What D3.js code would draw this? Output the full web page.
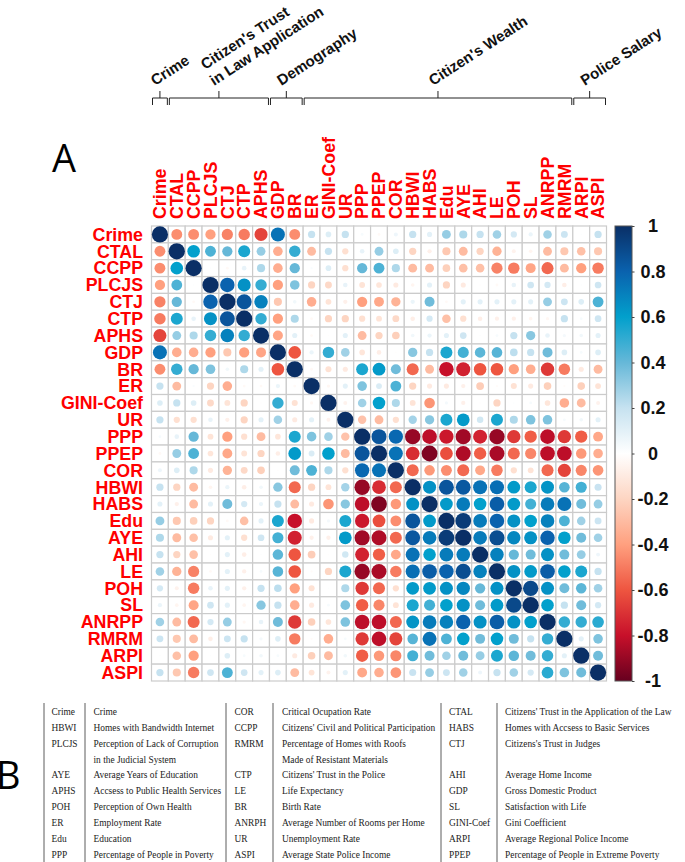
<!DOCTYPE html>
<html>
<head>
<meta charset="utf-8">
<script src="https://cdn.jsdelivr.net/npm/d3@7"></script>
<style>
  html, body { margin: 0; padding: 0; background: #fff; }
  svg { display: block; }
  .var-label { font-family: "Liberation Sans", sans-serif; font-weight: bold; font-size: 17.8px; fill: #ff0000; }
  .group-label { font-family: "Liberation Sans", sans-serif; font-weight: bold; font-size: 15px; fill: #111; }
  .panel-label { font-family: "Open Sans", sans-serif; font-size: 38px; fill: #000; }
  .cbar text { font-family: "Liberation Sans", sans-serif; font-weight: bold; font-size: 18px; fill: #111; }
  .legend-text { font-family: "Liberation Serif", serif; font-size: 9.4px; fill: #222; }
</style>
</head>
<body>
<svg width="685" height="862"></svg>
<script>
const variables = ["Crime", "CTAL", "CCPP", "PLCJS", "CTJ", "CTP", "APHS", "GDP", "BR", "ER", "GINI-Coef", "UR",
  "PPP", "PPEP", "COR", "HBWI", "HABS", "Edu", "AYE", "AHI", "LE", "POH", "SL", "ANRPP", "RMRM", "ARPI", "ASPI"];

// upper triangle of the correlation matrix, one row per variable
const corrUpper = [
  [1, -.45, -.45, -.4, -.48, -.5, -.65, .75, -.45, .2, .12, .2, .03, -.03, .06, .2, .1, .3, .25, .2, .28, .15, .07, .28, .18, .01, .2],
  [1, .6, .45, .4, .55, .3, -.35, .5, -.3, .2, -.15, .08, .3, .12, -.2, -.07, -.25, -.3, -.2, -.33, -.06, -.05, -.3, -.25, -.28, -.25],
  [1, .01, -.03, .08, .25, -.35, .4, .02, .12, -.15, .4, .45, .25, -.3, -.3, -.22, -.28, -.28, -.48, -.5, -.38, -.55, -.3, -.4, -.5],
  [1, .8, .65, .5, -.4, .35, -.2, -.18, .08, -.13, -.12, -.1, -.05, .1, -.2, -.1, -.01, -.03, .08, .17, .15, -.08, .01, .17],
  [1, .85, .7, -.25, .05, -.35, -.13, -.07, -.4, -.37, -.33, .07, .38, -.03, .1, .1, .1, .1, .1, .3, .18, .12, .45],
  [1, .5, -.4, .25, -.03, -.2, -.2, -.15, -.13, -.18, -.08, .15, -.28, -.15, -.08, -.07, -.07, -.05, -.04, .2, .03, .17],
  [1, -.38, .1, -.03, -.01, .1, -.3, -.2, -.22, .05, .07, .1, .17, .01, .03, .2, .33, .08, .04, .05, .1],
  [1, -.6, .07, .5, .28, -.12, -.08, -.01, .33, .2, .55, .47, .42, .43, .22, .2, .38, .12, .03, .12],
  [1, -.03, -.14, -.1, .55, .62, .38, -.55, -.3, -.8, -.75, -.6, -.6, -.4, -.35, -.68, -.5, -.1, -.3],
  [1, -.04, .1, .35, .13, .45, -.2, -.1, -.1, -.07, -.23, -.02, -.14, -.1, -.22, -.02, -.22, -.13],
  [1, -.06, .28, .6, .25, -.13, -.43, .04, -.07, -.01, -.2, .01, .03, -.12, -.35, -.3, -.06],
  [1, -.27, -.3, -.15, .27, .33, .55, .62, .16, .55, .25, .35, .35, .03, .05, .1],
  [1, .85, .78, -.9, -.82, -.78, -.88, -.75, -.9, -.68, -.58, -.82, -.68, -.58, -.37],
  [1, .75, -.72, -.95, -.62, -.85, -.58, -.86, -.55, -.47, -.82, -.82, -.42, -.35],
  [1, -.55, -.42, -.45, -.55, -.37, -.5, -.15, -.13, -.55, -.65, -.47, -.43],
  [1, .65, .85, .84, .75, .76, .62, .55, .64, .43, .47, .19],
  [1, .62, .72, .6, .82, .62, .47, .72, .75, .38, .3],
  [1, .95, .72, .8, .65, .6, .7, .45, .28, .18],
  [1, .72, .88, .68, .65, .8, .6, .38, .28],
  [1, .7, .4, .38, .65, .38, .3, .06],
  [1, .65, .62, .82, .6, .55, .2],
  [1, .9, .65, .38, .42, .28],
  [1, .6, .2, .38, .15],
  [1, .5, .5, .52],
  [1, .1, .35],
  [1, .38],
  [1]
];

const legendTicks = [1, 0.8, 0.6, 0.4, 0.2, 0, -0.2, -0.4, -0.6, -0.8, -1];
const colorStops = ["#0a2f66", "#0a62ae", "#02a0cc", "#66b8d8", "#c6e2f0", "#ffffff", "#fdd5c2", "#ffa07f", "#ee5540", "#c7102a", "#67001f"];

const groupNames = [["Crime"], ["Citizen's Trust", "in Law Application"], ["Demography"], ["Citizen's Wealth"], ["Police Salary"]];
// first and last variable index of each group
const groupSpans = [[0, 0], [1, 6], [7, 8], [9, 24], [25, 26]];

const glossaryCodes = [
  ["Crime", "HBWI", "PLCJS", "", "AYE", "APHS", "POH", "ER", "Edu", "PPP"],
  ["COR", "CCPP", "RMRM", "", "CTP", "LE", "BR", "ANRPH", "UR", "ASPI"],
  ["CTAL", "HABS", "CTJ", "", "AHI", "GDP", "SL", "GINI-Coef", "ARPI", "PPEP"]
];
const glossaryNames = [
  ["Crime", "Homes with Bandwidth Internet", "Perception of Lack of Corruption", "in the Judicial System", "Average Years of Education",
    "Accsess to Public Health Services", "Perception of Own Health", "Employment Rate", "Education", "Percentage of People in Poverty"],
  ["Critical Ocupation Rate", "Citizens' Civil and Political Participation", "Percentage of Homes with Roofs", "Made of Resistant Materials",
    "Citizens' Trust in the Police", "Life Expectancy", "Birth Rate", "Average Number of Rooms per Home", "Unemployment Rate", "Average State Police Income"],
  ["Citizens' Trust in the Application of the Law", "Homes with Accsess to Basic Services", "Citizens's Trust in Judges", "",
    "Average Home Income", "Gross Domestic Product", "Satisfaction with Life", "Gini Coefficient", "Average Regional Police Income", "Percentage of People in Extreme Poverty"]
];

const svg = d3.select("svg");

const plotLeft = 151.5, plotRight = 606.5, plotTop = 226, plotBottom = 681;

const x = d3.scaleBand().domain(d3.range(variables.length)).range([plotLeft, plotRight]);
const y = d3.scaleBand().domain(d3.range(variables.length)).range([plotTop, plotBottom]);
const radius = d3.scaleSqrt().domain([0, 1]).range([0, 8.1]);
const color = d3.scaleLinear().domain(legendTicks).range(colorStops);

// mirror the upper triangle into cells
const cells = [];
corrUpper.forEach((row, i) => {
  row.forEach((v, k) => {
    const j = i + k;
    cells.push({ i, j, v });
    if (i !== j) cells.push({ i: j, j: i, v });
  });
});

const plot = svg.append("g");

plot.selectAll("rect").data(cells).enter()
  .append("rect")
  .attr("x", d => x(d.j))
  .attr("y", d => y(d.i))
  .attr("width", x.bandwidth())
  .attr("height", y.bandwidth())
  .attr("fill", "#fff")
  .attr("stroke", "#cbcbcb")
  .attr("stroke-width", 1.2);

plot.selectAll("circle").data(cells).enter()
  .append("circle")
  .attr("cx", d => x(d.j) + x.bandwidth() / 2)
  .attr("cy", d => y(d.i) + y.bandwidth() / 2)
  .attr("r", d => radius(Math.abs(d.v)))
  .attr("fill", d => color(d.v));

// variable names
svg.append("g").selectAll("text").data(variables).enter()
  .append("text")
  .attr("class", "var-label")
  .attr("x", 143)
  .attr("y", (d, i) => y(i) + y.bandwidth() / 2 + 6.3)
  .attr("text-anchor", "end")
  .text(d => d);

svg.append("g").selectAll("text").data(variables).enter()
  .append("text")
  .attr("class", "var-label")
  .attr("transform", (d, i) => `translate(${x(i) + x.bandwidth() / 2 + 6.3},219) rotate(-90)`)
  .text(d => d);

// colour bar
const cbar = d3.scaleLinear().domain([-1, 1]).range([plotBottom, plotTop]);
const grad = svg.append("defs").append("linearGradient")
  .attr("id", "cbar-grad")
  .attr("x1", 0).attr("x2", 0).attr("y1", 0).attr("y2", 1);
grad.selectAll("stop").data(legendTicks).enter()
  .append("stop")
  .attr("offset", (d, i) => i / (legendTicks.length - 1))
  .attr("stop-color", (d, i) => colorStops[i]);

svg.append("rect")
  .attr("x", 615)
  .attr("y", plotTop)
  .attr("width", 17)
  .attr("height", plotBottom - plotTop)
  .attr("fill", "url(#cbar-grad)")
  .attr("stroke", "#555")
  .attr("stroke-width", 1);

const cbarAxis = svg.append("g")
  .attr("class", "cbar")
  .attr("transform", "translate(632,0)")
  .call(d3.axisRight(cbar).tickValues(legendTicks).tickSize(2.5).tickFormat(d => d));
cbarAxis.select(".domain").remove();
cbarAxis.selectAll("line").attr("stroke", "#444");
cbarAxis.selectAll("text")
  .attr("x", 21)
  .attr("text-anchor", "middle");

// group brackets above the matrix
const brackets = svg.append("g").attr("fill", "none").attr("stroke", "#222").attr("stroke-width", 1);
const groupBounds = groupSpans.map(s => [x(s[0]) + 1, x(s[1]) + x.bandwidth() - 1]);
groupBounds.forEach(b => {
  const mid = (b[0] + b[1]) / 2;
  brackets.append("path").attr("d", d3.line()([[b[0], 105], [b[0], 98], [b[1], 98], [b[1], 105]]));
  brackets.append("path").attr("d", d3.line()([[mid, 98], [mid, 91]]));
});

svg.append("g").selectAll("g").data(groupNames).enter()
  .append("g")
  .each(function (names, i) {
    const b = groupBounds[i];
    const mid = (b[0] + b[1]) / 2;
    d3.select(this).selectAll("text").data(names).enter()
      .append("text")
      .attr("class", "group-label")
      .attr("transform", (d, k) => {
        const offset = names.length - 1 - k;
        return `translate(${mid - 6 + offset * -9 + 1},${86 - offset * 16}) rotate(-33)`;
      })
      .text(d => d);
  });

svg.append("text").attr("class", "panel-label").attr("x", 52).attr("y", 172).text("A");
svg.append("text").attr("class", "panel-label").attr("x", -4).attr("y", 789).text("B");

// glossary table
const ruleX = [44, 85, 226, 273, 441, 497];
const codeX = [51.5, 234.5, 449];
const nameX = [93.5, 282, 505];
const rowY = d3.scaleLinear().domain([0, 9]).range([715, 857.5]);

svg.append("g").selectAll("line").data(ruleX).enter()
  .append("line")
  .attr("x1", d => d).attr("x2", d => d)
  .attr("y1", 703).attr("y2", 862)
  .attr("stroke", "#333")
  .attr("stroke-width", 0.8);

glossaryCodes.forEach((col, c) => {
  svg.append("g").selectAll("text").data(col).enter()
    .append("text")
    .attr("class", "legend-text")
    .attr("x", codeX[c])
    .attr("y", (d, i) => rowY(i))
    .text(d => d);
  svg.append("g").selectAll("text").data(glossaryNames[c]).enter()
    .append("text")
    .attr("class", "legend-text")
    .attr("x", nameX[c])
    .attr("y", (d, i) => rowY(i))
    .text(d => d);
});
</script>
</body>
</html>
